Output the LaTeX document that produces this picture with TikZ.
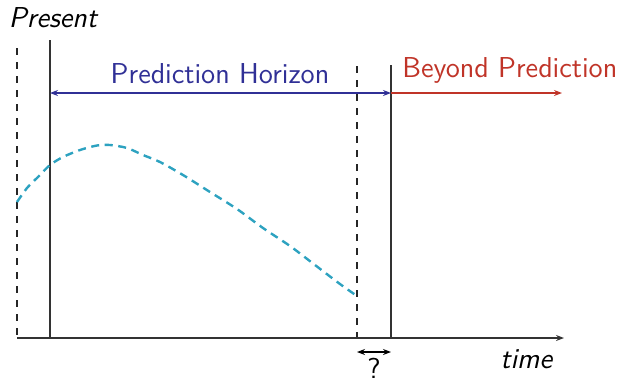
\documentclass[tikz,border=0pt]{standalone}
\usetikzlibrary{arrows.meta}
\definecolor{phblue}{RGB}{48,48,150}
\definecolor{bpred}{RGB}{192,52,40}
\definecolor{curveteal}{RGB}{45,162,192}
\tikzset{
  lbl/.style={font=\sffamily\fontsize{14.4pt}{17pt}\selectfont, inner sep=0pt, anchor=base},
  ilbl/.style={lbl, font=\sffamily\itshape\fontsize{14.4pt}{17pt}\selectfont},
  tip/.style={-{Stealth[length=4pt,width=3pt]}},
  bitip/.style={{Stealth[length=4pt,width=3pt]}-{Stealth[length=4pt,width=3pt]}},
  solidline/.style={line width=0.6pt, black!80},
  dashline/.style={line width=0.7pt, black!85, dash pattern=on 3.5pt off 3.5pt},
}
\begin{document}
\begin{tikzpicture}[x=0.5pt,y=-0.5pt]
\useasboundingbox (0,0) rectangle (627,382);
% coordinates
\coordinate (dlT) at (17,48);
\coordinate (dlB) at (17,338);
\coordinate (slT) at (50,40);
\coordinate (slB) at (50,338);
\coordinate (drT) at (357,66);
\coordinate (drB) at (357,338);
\coordinate (srT) at (391,65);
\coordinate (srB) at (391,338);
\coordinate (axL) at (17,338);
\coordinate (axR) at (564,338);
\coordinate (phL) at (50,93);
\coordinate (phR) at (391,93);
\coordinate (bpR) at (562,93);
\coordinate (qL) at (357,352);
\coordinate (qR) at (391,352);
% vertical lines
\draw[dashline] (dlT) -- (dlB);
\draw[solidline] (slT) -- (slB);
\draw[dashline, line width=0.6pt] (drT) -- (drB);
\draw[solidline] (srT) -- (srB);
% axis
\draw[solidline, tip] (axL) -- (axR);
% prediction arrows
\draw[phblue, line width=0.6pt, bitip] (phL) -- (phR);
\draw[bpred, line width=0.6pt, tip] (phR) -- (bpR);
\draw[black, line width=0.6pt, bitip] (qL) -- (qR);
% curve
\draw[curveteal, line width=1.2pt, dash pattern=on 4pt off 2.8pt]
  plot[smooth, tension=0.5] coordinates {(17,202) (27,188) (38,177) (50,165) (63,157) (80,150) (97,145.5) (110,145) (127,148) (143,155) (160,162) (183,175) (210,192) (237,209) (263,228) (290,246) (315,265) (340,284) (357,296)};
% labels
\node[ilbl] (present) at (53,27) {Present};
\node[lbl, phblue] (phtext) at (220,83) {Prediction Horizon};
\node[lbl, bpred, anchor=base west] (bptext) at (402,77) {Beyond Prediction};
\node[ilbl, anchor=base west] (timetext) at (500,368) {time};
\node[lbl] (qtext) at (374,378) {?};
\end{tikzpicture}
\end{document}
